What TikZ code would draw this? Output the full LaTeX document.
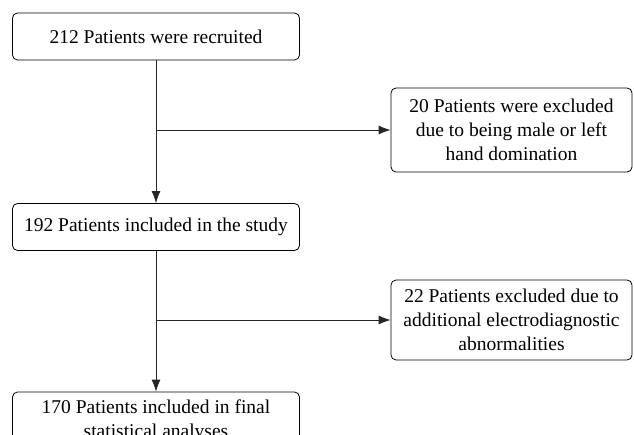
\documentclass[tikz,border=0pt]{standalone}
\usepackage{fontspec}
\setmainfont{Liberation Serif}
\usetikzlibrary{arrows.meta}

\tikzset{
  flowbox/.style={draw, rounded corners=5pt, align=center, inner sep=1pt, line width=0.8pt},
  mainbox/.style={flowbox, minimum width=287pt, minimum height=47pt},
  exclbox/.style={flowbox, minimum width=241pt, minimum height=84pt},
  flowarrow/.style={-{Latex[length=12pt,width=9pt]}, line width=0.8pt, black!85},
}

\begin{document}
\begin{tikzpicture}[x=1pt,y=-1pt,font=\fontsize{19.5}{24}\selectfont]

    \clip (0,0) rectangle (634,435);

    % main column
    \node[mainbox] (recruited) at (156,36.5) {212 Patients were recruited};
    \node[mainbox] (included) at (156,227) {192 Patients included in the study};
    \node[mainbox, text depth=8pt, minimum height=62pt] (final) at (156,423) {170 Patients included in final\\statistical analyses};

    % exclusions
    \node[exclbox] (exclsex) at (511.5,130) {20 Patients were excluded\\due to being male or left\\hand domination};
    \node[exclbox, minimum height=80pt] (excledx) at (511.5,320) {22 Patients excluded due to\\additional electrodiagnostic\\abnormalities};

    \coordinate (split1) at (recruited.south |- exclsex.west);
    \coordinate (split2) at (included.south |- excledx.west);

    \draw[flowarrow] (recruited.south) -- (included.north);
    \draw[flowarrow] (split1) -- (exclsex.west);
    \draw[flowarrow] (included.south) -- (final.north);
    \draw[flowarrow] (split2) -- (excledx.west);

\end{tikzpicture}
\end{document}
